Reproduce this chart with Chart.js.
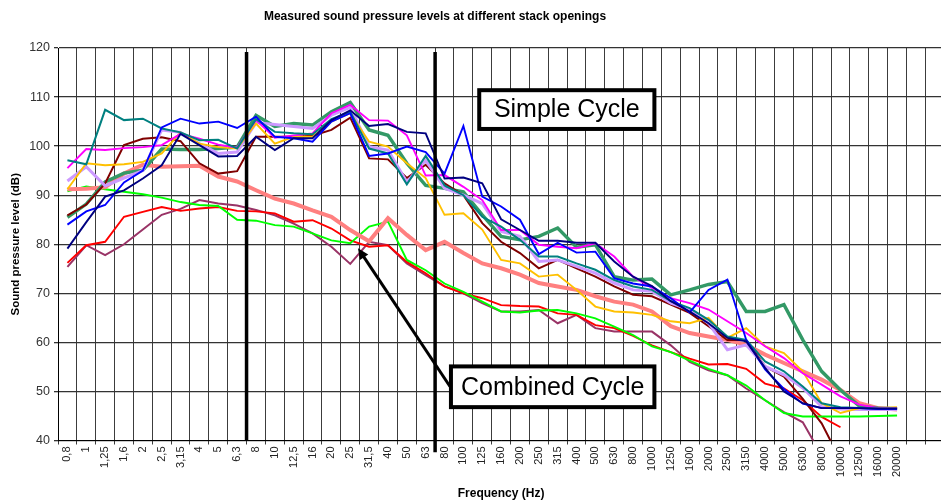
<!DOCTYPE html>
<html>
<head>
<meta charset="utf-8">
<script src="https://cdn.jsdelivr.net/npm/chart.js@4.4.0/dist/chart.umd.min.js"></script>
<style>
  html, body { margin: 0; padding: 0; background: #fff; overflow: hidden; }
  #wrap { position: relative; width: 950px; height: 502px; }
</style>
</head>
<body>
<div id="wrap"><canvas id="splChart"></canvas></div>
<script>
const FONT = '"Liberation Sans", Arial, sans-serif';

// 1/3-octave band centres (Hz); two blank slots keep the grid running to the right edge
const bands = ['0,8', '1', '1,25', '1,6', '2', '2,5', '3,15', '4', '5', '6,3',
  '8', '10', '12,5', '16', '20', '25', '31,5', '40', '50', '63',
  '80', '100', '125', '160', '200', '250', '315', '400', '500', '630',
  '800', '1000', '1250', '1600', '2000', '2500', '3150', '4000', '5000', '6300',
  '8000', '10000', '12500', '16000', '20000', '', ''];

const yTicks = [40, 50, 60, 70, 80, 90, 100, 110, 120];

// simple cycle runs (dB)
const scNavy = [79.1, 84.5, 89.7, 91, 93.4, 96.1, 102.5, 100.2, 97.9, 98, 101.9, 99.2, 101.6, 101.6, 105.3, 107.3, 104.1, 104.5, 102.9, 102.6,
  93.4, 93.6, 92.4, 85.1, 82.9, 80.7, 80.7, 80.3, 80.3, 76.5, 73.4, 71.5, 68.4, 66.3, 63.9, 60.9, 60.2, 54.8, 50, 47.6,
  46.6, 46.6, 46.6, 46.5, 46.5];
const scBlue = [84, 86.7, 88, 92.6, 95, 103.8, 105.6, 104.6, 105, 103.7, 106, 101.9, 101.6, 100.9, 105, 106.7, 98, 98.5, 99.9, 98.8,
  94.4, 104.1, 89.7, 87.7, 85, 78, 80.3, 78.3, 78.5, 73.1, 72, 71.4, 69, 66.1, 70.7, 72.8, 60.5, 54.5, 50.5, 47.5,
  46.6, 46.6, 46.6, 46.4, 46.4];
const scTeal = [97.1, 96.3, 107.4, 105.3, 105.6, 103.6, 102.8, 101.2, 101.3, 99.5, 105.5, 102.9, 102.6, 102.4, 105.5, 107, 99.5, 98.5, 92.2, 98,
  92, 90, 85.6, 83.6, 80.9, 77.5, 77.5, 76.1, 74.8, 72.7, 71.4, 70.7, 68.4, 67, 64.6, 61.2, 60.5, 56.1, 54.1, 51,
  47.6, 46.8, 46.6, 46.5, 46.5];
const scMagenta = [95.5, 99.4, 99.2, 99.6, 99.8, 100.2, 102.5, 101.5, 100.3, 99.7, 105.3, 101.7, 102.2, 102.6, 106.7, 108.4, 105.3, 105.2, 102.2, 94,
  94.1, 91.7, 89, 82.9, 82.9, 79.9, 79.5, 79.2, 80.2, 77.5, 73.4, 71.1, 69, 68, 66.7, 64.3, 61.9, 59.2, 56.8, 53.7,
  51.4, 49, 47.3, 46.6, 46.6];
const scGold = [91.2, 96.5, 96.1, 96.3, 96.8, 98.5, 102.8, 100.5, 99.8, 99.5, 104.6, 100.5, 101.9, 101.9, 105, 106.7, 100.9, 99.9, 96.5, 93.5,
  86, 86.3, 83, 76.8, 76.1, 73.4, 73.8, 70.7, 67.3, 66.3, 66.1, 65.6, 64.3, 63.9, 65, 60.9, 62.9, 59.2, 57.8, 54.1,
  47.6, 45.6, 46.6, 46.6, 46.8];
const scLavender = [92.9, 95.8, 91.9, 93.5, 95, 103.3, 102.8, 100.5, 98.5, 98.8, 104.8, 104.4, 104, 103.6, 106.3, 107.9, 99.9, 99.2, 92.7, 97.1,
  91.4, 90, 88.3, 82.6, 81.6, 76.5, 76.8, 75.5, 74.1, 72.1, 70.7, 70.4, 68, 66.7, 63.9, 58.5, 59.5, 55.1, 53.4, 50.7,
  46.9, 46.4, 46.3, 46.3, 46.3];
const scMaroon = [85.9, 88.1, 92.4, 100.2, 101.5, 101.8, 101, 96.5, 94.4, 94.9, 101.9, 101.9, 101.9, 102.1, 103.3, 105.8, 97.5, 97.3, 93.5, 96.2,
  92.4, 90, 84.3, 80.5, 78.2, 75.1, 76.8, 75.1, 73.4, 71.4, 69.7, 69.4, 67.7, 66, 63.3, 60.5, 60.5, 55.1, 53, 48.5,
  43.5, 36, null, null, null];
const scSeaGreen = [85.5, 88.2, 92.7, 94.5, 95.1, 99.4, 99.3, 99.3, 99.5, 99.8, 106.3, 104, 104.6, 104.3, 107, 108.9, 103.3, 102.2, 96.5, 92,
  91.4, 90.7, 86, 81.6, 80.9, 81.6, 83.3, 79.4, 79.9, 73.4, 72.7, 72.9, 69.7, 70.7, 71.8, 72.4, 66.3, 66.3, 67.7, 60.5,
  54.1, 50.3, 47, 46.6, 46.5];

// combined cycle runs (dB)
const ccSalmon = [91.2, 91.3, 91.6, 94.4, 96.2, 95.8, 95.9, 96, 93.8, 92.8, 91, 89.3, 88.3, 86.9, 85.6, 82.9, 80.6, 85.3, 81.9, 78.8,
  80.5, 78.2, 76.1, 75.1, 73.8, 72.1, 71.4, 70.7, 69.4, 68.3, 67.7, 66.3, 63.3, 61.9, 61.2, 60.5, 59.5, 57.5, 55.8, 54.1,
  52.4, 50.3, 47.6, 46.6, 46.3];
const ccGreen = [90.8, 91.8, 91.2, 90.7, 90.2, 89.5, 88.6, 88, 87.8, 85, 84.8, 83.9, 83.6, 82.2, 80.8, 80.2, 83.6, 84.6, 76.8, 74.7,
  72, 70.3, 68.3, 66.3, 66.1, 66.5, 66.6, 65.9, 64.9, 63.2, 61.5, 59.2, 58, 56.3, 54.6, 53.3, 51.2, 48.2, 45.6, 44.9,
  44.9, 44.9, 44.9, 45, 45.1];
const ccRed = [76.2, 79.8, 80.5, 85.6, 86.6, 87.6, 86.8, 87.3, 87.6, 86.8, 86.7, 86.3, 84.6, 84.9, 83.2, 80.8, 79.5, 79.8, 76.4, 74.1,
  71.4, 70, 69, 67.6, 67.4, 67.3, 65.9, 65.6, 63.5, 62.9, 61.3, 59.4, 58, 56.7, 55.5, 55.6, 54.6, 51.6, 50.6, 48.2,
  44.8, 42.7, null, null, null];
const ccPlum = [75.4, 79.8, 77.8, 80, 83, 86, 87.2, 89, 88.3, 87.9, 87, 85.9, 84.2, 82.2, 79.5, 76, 80.5, 79.8, 76.1, 73.7,
  71.4, 70, 68, 66.3, 66.3, 66.6, 63.9, 65.6, 62.9, 62.2, 62.2, 62.2, 59.4, 56, 54.3, 53.3, 50.6, 48.2, 45.8, 43.7,
  37, null, null, null, null];

const runs = [
  { label: 'SC 1', data: scNavy, color: '#000080', width: 1.9 },
  { label: 'SC 2', data: scBlue, color: '#0000ff', width: 1.9 },
  { label: 'SC 3', data: scTeal, color: '#008080', width: 2 },
  { label: 'SC 4', data: scMagenta, color: '#ff00ff', width: 1.9 },
  { label: 'SC 5', data: scGold, color: '#ffc000', width: 1.9 },
  { label: 'SC 6', data: scLavender, color: '#cc99ff', width: 3 },
  { label: 'SC 7', data: scMaroon, color: '#800000', width: 2 },
  { label: 'SC 8', data: scSeaGreen, color: '#339966', width: 3.4 },
  { label: 'CC 1', data: ccSalmon, color: '#ff8080', width: 4 },
  { label: 'CC 2', data: ccGreen, color: '#00ff00', width: 1.9 },
  { label: 'CC 3', data: ccRed, color: '#ff0000', width: 1.9 },
  { label: 'CC 4', data: ccPlum, color: '#993366', width: 2 },
];

// thick markers between bands, and the two labelled boxes, in (band index, dB)
const markers = [
  { at: 9.5, top: 119.2, bottom: 40 },
  { at: 19.5, top: 119.2, bottom: 37.6 },
];
const boxes = [
  { text: 'Simple Cycle', x0: 21.84, x1: 31.13, y0: 111.4, y1: 103.5 },
  { text: 'Combined Cycle', x0: 20.34, x1: 31.13, y0: 55.1, y1: 46.8 },
];
const pointer = { from: [20.29, 51.0], to: [15.41, 79.2] };

const overlay = {
  id: 'overlay',
  afterDatasetsDraw(chart) {
    const { ctx, chartArea, scales: { x, y } } = chart;
    ctx.save();
    ctx.strokeStyle = '#000';
    ctx.fillStyle = '#000';

    ctx.lineWidth = 3.5;
    markers.forEach(m => {
      const px = x.getPixelForValue(m.at);
      ctx.beginPath();
      ctx.moveTo(px, y.getPixelForValue(m.top));
      ctx.lineTo(px, y.getPixelForValue(m.bottom));
      ctx.stroke();
    });

    // arrow into the combined-cycle curves
    const ax0 = x.getPixelForValue(pointer.from[0]), ay0 = y.getPixelForValue(pointer.from[1]);
    const ax1 = x.getPixelForValue(pointer.to[0]), ay1 = y.getPixelForValue(pointer.to[1]);
    const ang = Math.atan2(ay1 - ay0, ax1 - ax0);
    ctx.lineWidth = 3;
    ctx.beginPath();
    ctx.moveTo(ax0, ay0);
    ctx.lineTo(ax1 - 6 * Math.cos(ang), ay1 - 6 * Math.sin(ang));
    ctx.stroke();
    ctx.beginPath();
    ctx.moveTo(ax1, ay1);
    ctx.lineTo(ax1 - 11 * Math.cos(ang) + 5 * Math.sin(ang), ay1 - 11 * Math.sin(ang) - 5 * Math.cos(ang));
    ctx.lineTo(ax1 - 11 * Math.cos(ang) - 5 * Math.sin(ang), ay1 - 11 * Math.sin(ang) + 5 * Math.cos(ang));
    ctx.closePath();
    ctx.fill();

    ctx.lineWidth = 4;
    ctx.font = '25px ' + FONT;
    ctx.textAlign = 'center';
    ctx.textBaseline = 'middle';
    boxes.forEach(b => {
      const l = x.getPixelForValue(b.x0), r = x.getPixelForValue(b.x1);
      const t = y.getPixelForValue(b.y0), btm = y.getPixelForValue(b.y1);
      ctx.fillStyle = '#fff';
      ctx.fillRect(l, t, r - l, btm - t);
      ctx.strokeRect(l, t, r - l, btm - t);
      ctx.fillStyle = '#000';
      ctx.fillText(b.text, (l + r) / 2, (t + btm) / 2 + 1);
    });

    // titles
    ctx.font = 'bold 12px ' + FONT;
    ctx.fillText('Measured sound pressure levels at different stack openings', 435, 17);
    ctx.fillText('Frequency (Hz)', (chartArea.left + chartArea.right) / 2, 494);
    ctx.font = 'bold 11.5px ' + FONT;
    ctx.translate(16, (chartArea.top + chartArea.bottom) / 2);
    ctx.rotate(-Math.PI / 2);
    ctx.fillText('Sound pressure level (dB)', 0, 0);
    ctx.restore();
  }
};

new Chart(document.getElementById('splChart'), {
  type: 'line',
  data: {
    labels: bands,
    datasets: runs.map(r => ({
      label: r.label,
      data: r.data,
      borderColor: r.color,
      backgroundColor: r.color,
      borderWidth: r.width,
      pointRadius: 0,
      tension: 0,
      fill: false,
      spanGaps: false,
    })),
  },
  options: {
    responsive: true,
    maintainAspectRatio: false,
    animation: false,
    layout: { padding: { top: 48, right: 2, left: 0, bottom: 0 } },
    plugins: { legend: { display: false }, title: { display: false }, tooltip: { enabled: false } },
    scales: {
      x: {
        offset: true,
        grid: { offset: true, color: '#3c3c3c', lineWidth: 1, tickLength: 4 },
        border: { color: '#000', width: 1 },
        ticks: {
          autoSkip: false, minRotation: 90, maxRotation: 90, padding: 2,
          color: '#222', font: { family: FONT, size: 11 },
        },
        afterFit(scale) { scale.height = 61.5; },
      },
      y: {
        min: 40, max: 120,
        afterBuildTicks(scale) { scale.ticks = yTicks.map(v => ({ value: v })); },
        grid: { color: '#333', lineWidth: 1.3, tickLength: 4 },
        border: { color: '#000', width: 1 },
        ticks: { padding: 4, color: '#333', font: { family: FONT, size: 12.5 } },
        afterFit(scale) { scale.width = 58; },
      },
    },
  },
  plugins: [overlay],
});
</script>
</body>
</html>
